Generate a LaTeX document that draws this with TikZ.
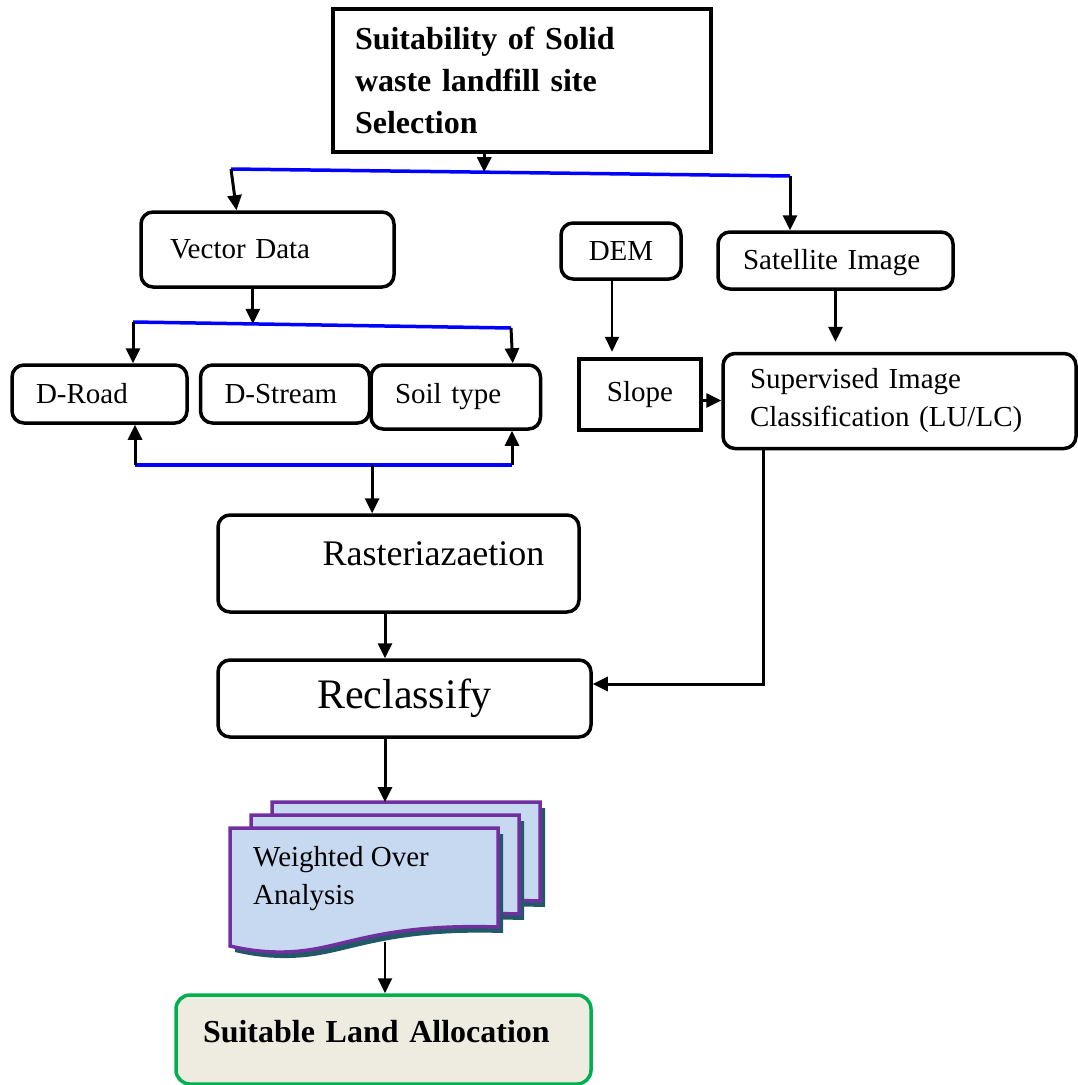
\documentclass[tikz,border=0pt]{standalone}
\usepackage{fontspec}
\setmainfont{Liberation Serif}
\usetikzlibrary{arrows.meta,calc}

\definecolor{docfill}{HTML}{C6D9F1}
\definecolor{docline}{HTML}{7030A0}
\definecolor{docshade}{HTML}{215968}
\definecolor{landfill}{HTML}{EEECE1}
\definecolor{landline}{HTML}{00B050}

\tikzset{
  rbox/.style={draw, line width=3.5pt, rounded corners=12pt, inner ysep=0pt, align=left, font=\fontsize{29}{38}\selectfont},
  sbox/.style={draw, line width=4.5pt, inner ysep=0pt, align=left},
  arr/.style={line width=3pt, -{Triangle[length=15pt,width=14pt]}},
  thinarr/.style={line width=2pt, -{Triangle[length=15pt,width=14pt]}},
  bar/.style={blue, line width=3.5pt},
  doc/.style={fill=docfill, draw=docline, line width=3.5pt, line join=miter},
}

\begin{document}
\begin{tikzpicture}[x=1pt, y=-1pt]
  \useasboundingbox (0,0) rectangle (1077,1085);

  % boxes
  \node (title) [sbox, text width=334pt, inner xsep=22pt, minimum height=143pt, font=\bfseries\fontsize{32}{42}\selectfont] at (522,80.5) {Suitability of Solid\\waste landfill site\\Selection};
  \node (vec) [rbox, text width=195pt, inner xsep=29pt, minimum height=75pt] at (267.5,249.5) {Vector Data};
  \node (dem) [rbox, align=center, minimum width=120pt, minimum height=56pt] at (621,251) {DEM};
  \node (sat) [rbox, text width=185pt, inner xsep=25pt, minimum height=57pt, text depth=3pt] at (835.5,260.5) {Satellite Image};
  \node (road) [rbox, text width=127pt, inner xsep=24pt, minimum height=58pt] at (99.5,394) {D-Road};
  \node (stream) [rbox, text width=121pt, inner xsep=24pt, minimum height=58pt] at (285,394) {D-Stream};
  \node (soil) [rbox, text width=121.5pt, inner xsep=24pt, minimum height=64pt] at (455.75,397) {Soil type};
  \node (slope) [sbox, align=center, minimum width=122pt, minimum height=71pt, font=\fontsize{29}{38}\selectfont] at (640,394.5) {Slope};
  \node (sup) [rbox, text width=299pt, inner xsep=27pt, minimum height=95pt] at (899.5,401) {Supervised Image\\Classification (LU/LC)};
  \node (raster) [rbox, align=center, minimum width=361pt, minimum height=97pt, text depth=20pt, font=\fontsize{36}{42}\selectfont] at (398.5,563.5) {\hspace*{70pt}Rasteriazaetion};
  \node (reclass) [rbox, align=center, minimum width=373pt, minimum height=77pt, font=\fontsize{42}{48}\selectfont] at (404.5,698.5) {Reclassify};

  % stacked documents
  \foreach \dx/\dy in {42/-26, 21/-13, 0/0} {
    \begin{scope}[shift={(\dx,\dy)}]
      \fill[docshade, shift={(5,6)}] (230,828) -- (498,828) -- (498,927) .. controls (400,924) and (360,940) .. (320,948) .. controls (285,955) and (255,952) .. (230,946) -- cycle;
      \draw[doc] (230,828) -- (498,828) -- (498,927) .. controls (400,924) and (360,940) .. (320,948) .. controls (285,955) and (255,952) .. (230,946) -- cycle;
    \end{scope}
  }
  \node (weighted) [anchor=west, align=left, inner sep=0pt, font=\fontsize{29}{38}\selectfont] at (253,879) {Weighted Over\\Analysis};
  \coordinate (stacktop) at (385,802);
  \coordinate (stackbot) at (385,942);

  \node (final) [draw=landline, fill=landfill, line width=3.5pt, rounded corners=14pt, inner ysep=0pt, text width=361pt, inner xsep=27pt, minimum height=89pt, text depth=17pt, font=\bfseries\fontsize{32}{40}\selectfont] at (383.5,1039.5) {Suitable Land Allocation};

  % blue bars
  \coordinate (b1l) at (231,169);
  \coordinate (b1r) at (790,176);
  \coordinate (b2l) at (133,322);
  \coordinate (b2r) at (511,328);
  \coordinate (b3l) at (135,465);
  \coordinate (b3r) at (512,465);
  \coordinate (b1m) at ($(b1l)!0.453!(b1r)$);
  \coordinate (b2m) at ($(b2l)!0.317!(b2r)$);
  \coordinate (b3m) at ($(b3l)!0.629!(b3r)$);
  \coordinate (spine) at (385,0);
  \draw[bar] (b1l) -- (b1r);
  \draw[bar] (b2l) -- (b2r);
  \draw[bar] (b3l) -- (b3r);

  % connectors
  \draw[arr] (title.south -| b1m) -- (b1m);
  \draw[arr] (b1l) -- ([xshift=-31pt]vec.north);
  \draw[arr] (b1r) -- (b1r |- sat.north);
  \draw[arr] (vec.south -| b2m) -- (b2m);
  \draw[arr] (b2l) -- (b2l |- road.north);
  \draw[arr] (b2r) -- ([xshift=57pt]soil.north);
  \draw[arr] (b3l) -- (b3l |- road.south);
  \draw[arr] (b3r) -- (b3r |- soil.south);
  \draw[arr] (b3m) -- (b3m |- raster.north);
  \draw[thinarr, shorten >=5pt] ([xshift=-9pt]dem.south) -- ([xshift=-9pt]dem.south |- slope.north);
  \draw[arr, shorten >=10pt] (sat.south) -- (sat.south |- sup.north);
  \draw[arr] ([yshift=-6pt]slope.east) -- ([yshift=-6pt]slope.east -| sup.west);
  \draw[arr] ([xshift=-136.5pt]sup.south) |- ([yshift=14.5pt]reclass.east);
  \draw[arr] (raster.south -| spine) -- (reclass.north -| spine);
  \draw[arr] (reclass.south -| spine) -- (stacktop);
  \draw[thinarr] (stackbot) -- (final.north -| spine);
\end{tikzpicture}
\end{document}
